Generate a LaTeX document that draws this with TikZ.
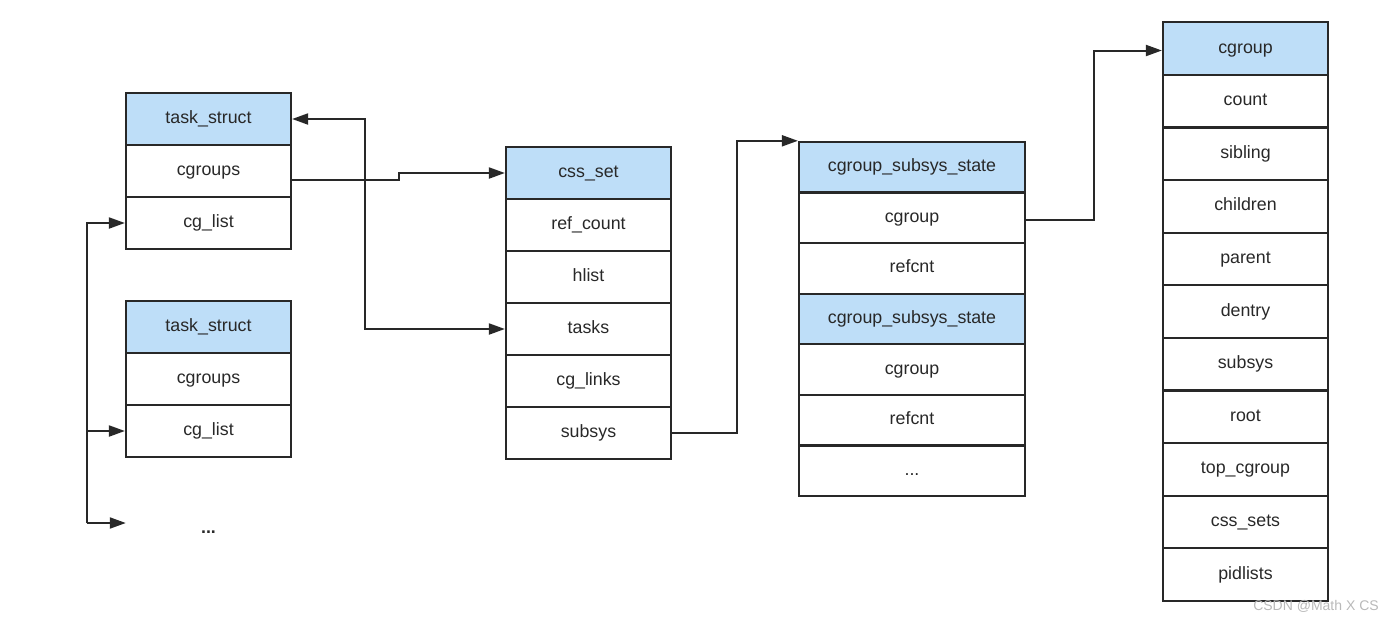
\documentclass[tikz,border=0pt]{standalone}
\usepackage{fontspec}
\setmainfont{Liberation Sans}
\usepackage{tikz}
\usetikzlibrary{matrix,arrows.meta}
\definecolor{hdr}{RGB}{190,222,248}
\definecolor{ink}{RGB}{40,40,40}
\newcommand{\fieldfont}{\fontsize{17.8}{20}\selectfont}

\begin{document}
\begin{tikzpicture}[x=1pt,y=-1pt,
	struct/.style={matrix of nodes,row sep=-2.2pt,
		nodes={draw=ink,line width=2.2pt,minimum width=165pt,minimum height=52pt,
			inner sep=0pt,text height=12pt,text depth=3pt,text=ink,font=\fieldfont},
		row 1/.style={nodes={fill=hdr}}},
	link/.style={draw=ink,line width=2pt,-{Triangle[length=16pt,width=11pt]}}]
	\useasboundingbox (0,0) rectangle (1393,622);
	\matrix (t1) [struct] at (208.5,171)
	{
		task\_struct \\ cgroups \\ cg\_list \\};
	\matrix (t2) [struct] at (208.5,379)
	{
		task\_struct \\ cgroups \\ cg\_list \\};
	\node (more) [minimum width=165pt,text height=12pt,text depth=3pt,text=ink,font=\fieldfont] at (208.5,529) {\textbf{...}};
	\matrix (cs) [struct] at (588.5,303)
	{
		css\_set \\ ref\_count \\ hlist \\ tasks \\ cg\_links \\ subsys \\};
	\matrix (ss) [struct,nodes={minimum width=226pt,minimum height=50.6pt},
		row 4/.style={nodes={fill=hdr}}] at (912,319)
	{
		cgroup\_subsys\_state \\ cgroup \\ refcnt \\ cgroup\_subsys\_state \\ cgroup \\ refcnt \\ ... \\};
	\matrix (cg) [struct,nodes={minimum height=52.6pt}] at (1245.5,311.5)
	{
		cgroup \\ count \\ sibling \\ children \\ parent \\ dentry \\ subsys \\ root \\ top\_cgroup \\ css\_sets \\ pidlists \\};
	\node (mark) [text=gray!55,font=\fontsize{14}{16}\selectfont] at (1316,606) {CSDN @Math X CS};
	%\draw[dashed,->] (t1) -- (cs);
	\coordinate (lst) at (87,523);
	\path[link]
	([yshift=-9pt]t1-2-1.east) -- ++(107,0) |- (cs-1-1.west);
	\path[link,{Triangle[length=16pt,width=11pt]}-{Triangle[length=16pt,width=11pt]}]
	(t1-1-1.east) -- ++(73,0) |- (cs-4-1.west);
	\path[link]
	(cs-6-1.east) -- ++(65,0) |- (ss-1-1.north west);
	\path[link]
	([yshift=-2pt]ss-2-1.east) -- ++(68,0) |- ([yshift=-2pt]cg-1-1.west);
	\path[link] (lst) |- (t1-3-1.west);
	\path[link] (lst) |- (t2-3-1.west);
	\path[link] (lst) -- (lst -| more.west);
\end{tikzpicture}
\end{document}
